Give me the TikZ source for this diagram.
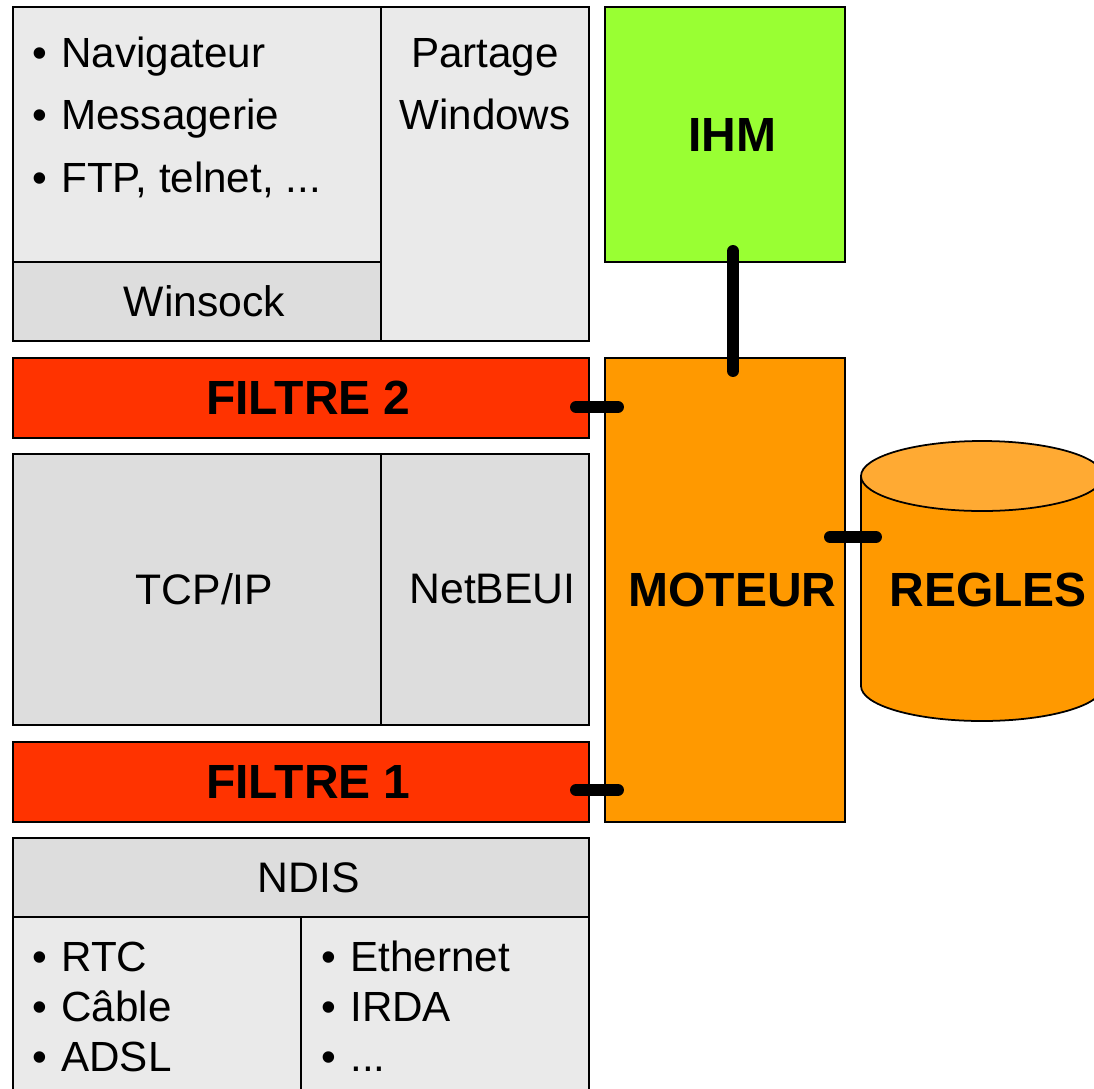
\documentclass[tikz,border=0pt]{standalone}
\usepackage{fontspec}
\setmainfont{Liberation Sans}
\usetikzlibrary{calc}
\definecolor{pale}{HTML}{EAEAEA}
\definecolor{mid}{HTML}{DDDDDD}
\definecolor{filtrered}{HTML}{FF3300}
\definecolor{moteurorange}{HTML}{FF9900}
\definecolor{cyltop}{HTML}{FFAA33}
\definecolor{ihmgreen}{HTML}{99FF33}
\newcommand{\puce}[1]{\makebox[0.58cm][l]{•}#1}
\tikzset{
  layer/.style={draw, line width=1.2pt, inner sep=0pt, outer sep=0pt, anchor=north west,
    font=\fontsize{24.3}{28}\selectfont, execute at begin node={\hspace*{0.3cm}}},
  gras/.style={font=\fontsize{27.3}{30}\selectfont\bfseries},
  txt/.style={inner sep=0pt, anchor=base west, font=\fontsize{24}{28}\selectfont},
  link/.style={line width=6.8pt, line cap=round},
}

\begin{document}
\begin{tikzpicture}
    \useasboundingbox (0,0) rectangle (21.88,-21.76);
    % piles de protocoles
    \node[layer, fill=pale, minimum width=7.36cm, minimum height=5.10cm] (apps) at (0.26,-0.14) {};
    \node[layer, fill=mid, minimum width=7.36cm, minimum height=1.58cm] (winsock) at (0.26,-5.24) {Winsock};
    \node[layer, fill=pale, minimum width=4.16cm, minimum height=6.68cm] (partage) at (7.62,-0.14) {};
    \node[layer, gras, fill=filtrered, minimum width=11.52cm, minimum height=1.6cm] (filtre2) at (0.26,-7.16) {FILTRE 2};
    \node[layer, fill=mid, minimum width=7.36cm, minimum height=5.42cm] (tcpip) at (0.26,-9.08) {TCP/IP};
    \node[layer, fill=mid, minimum width=4.16cm, minimum height=5.42cm] (netbeui) at (7.62,-9.08) {NetBEUI};
    \node[layer, gras, fill=filtrered, minimum width=11.52cm, minimum height=1.6cm] (filtre1) at (0.26,-14.84) {FILTRE 1};
    \node[layer, fill=mid, minimum width=11.52cm, minimum height=1.58cm] (ndis) at (0.26,-16.76) {NDIS};
    \node[layer, fill=pale, minimum width=5.76cm, minimum height=3.8cm] (modems) at (0.26,-18.34) {};
    \node[layer, fill=pale, minimum width=5.76cm, minimum height=3.8cm] (cartes) at (6.02,-18.34) {};

    \node[txt] (nav) at (0.64,-1.34) {\puce{Navigateur}};
    \node[txt] (mess) at (0.64,-2.58) {\puce{Messagerie}};
    \node[txt] (ftp) at (0.64,-3.84) {\puce{FTP, telnet, ...}};
    \node[txt, anchor=base] (part) at (9.70,-1.34) {Partage};
    \node[txt, anchor=base] (win) at (9.70,-2.58) {Windows};
    \node[txt] (rtc) at (0.64,-19.42) {\puce{RTC}};
    \node[txt] (cable) at (0.64,-20.42) {\puce{Câble}};
    \node[txt] (adsl) at (0.64,-21.42) {\puce{ADSL}};
    \node[txt] (eth) at (6.42,-19.42) {\puce{Ethernet}};
    \node[txt] (irda) at (6.42,-20.42) {\puce{IRDA}};
    \node[txt] (autres) at (6.42,-21.42) {\puce{...}};

    % pare-feu
    \node[layer, gras, fill=ihmgreen, minimum width=4.8cm, minimum height=5.1cm] (ihm) at (12.1,-0.14) {IHM};
    \node[layer, gras, fill=moteurorange, minimum width=4.8cm, minimum height=9.28cm] (moteur) at (12.1,-7.16) {MOTEUR};
    \filldraw[line width=1pt, fill=moteurorange] (17.22,-9.52) -- (17.22,-13.72) arc[start angle=180, end angle=360, x radius=2.42cm, y radius=0.7cm] -- (22.06,-9.52) -- cycle;
    \filldraw[line width=1pt, fill=cyltop] (19.64,-9.52) ellipse [x radius=2.42cm, y radius=0.7cm];
    \node[gras] (regles) at (19.76,-11.8) {REGLES};
    \coordinate (cylside) at (17.22,-10.74);

    \draw[link] ($(filtre2.east)+(-0.26,-0.18)$) -- ($(moteur.west |- filtre2.east)+(0.26,-0.18)$);
    \draw[link] ($(filtre1.east)+(-0.26,-0.16)$) -- ($(moteur.west |- filtre1.east)+(0.26,-0.16)$);
    \draw[link] ($(ihm.south)+(0.16,0.22)$) -- ($(moteur.north)+(0.16,-0.26)$);
    \draw[link] ($(moteur.east)+(-0.3,1.06)$) -- ($(cylside)+(0.3,0)$);
\end{tikzpicture}
\end{document}
